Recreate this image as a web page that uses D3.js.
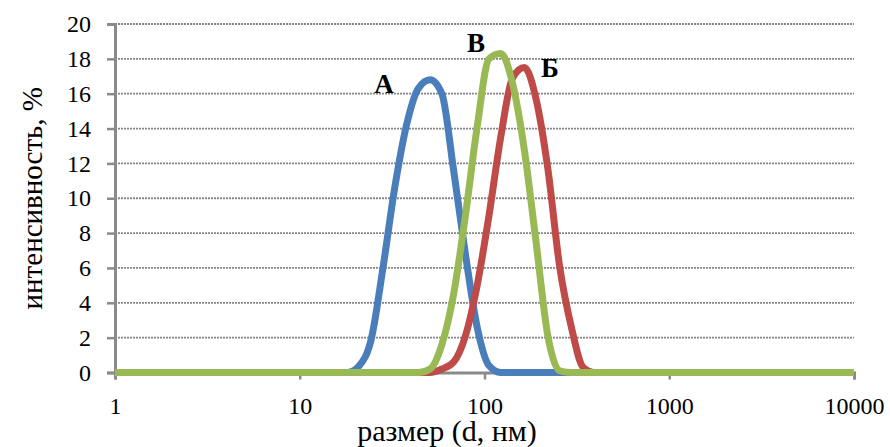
<!DOCTYPE html>
<html>
<head>
<meta charset="utf-8">
<script src="https://cdn.jsdelivr.net/npm/d3@7"></script>
<style>
  body { margin: 0; background: #fff; }
  text { font-family: "Liberation Serif", "Times New Roman", serif; fill: #000; }
</style>
</head>
<body>
<div id="chart"></div>
<script>
// particle size (nm), shared by all three distributions
const sizes = [1, 18.17, 21.04, 24.36, 28.21, 32.67, 37.84, 43.82, 50.75, 58.77, 68.06, 78.82,
               91.28, 105.7, 122.4, 141.8, 164.2, 190.1, 220.2, 255.0, 295.3, 342.0, 396.1, 10000];
// intensity, %
const seriesA = [0, 0, 0.4, 1.9, 6.0, 10.6, 14.2, 16.3, 16.8, 16.0, 11.6, 6.8,
                 2.6, 0.4, 0, 0, 0, 0, 0, 0, 0, 0, 0, 0];
const seriesB = [0, 0, 0, 0, 0, 0, 0, 0, 0, 0.2, 0.6, 2.1,
                 5.0, 9.0, 13.5, 16.9, 17.5, 15.7, 11.7, 6.1, 2.6, 0.3, 0, 0];
const seriesV = [0, 0, 0, 0, 0, 0, 0, 0, 0.2, 1.6, 4.5, 9.0,
                 14.1, 18.0, 18.3, 16.6, 12.8, 7.5, 2.1, 0.1, 0, 0, 0, 0];

const series = [
  { name: "А", values: seriesA, color: "#4a7ebb", label: [384, 93] },
  { name: "Б", values: seriesB, color: "#be4b48", label: [550, 77] },
  { name: "В", values: seriesV, color: "#98b954", label: [476, 52] }
];
const xTicks = [1, 10, 100, 1000, 10000];
const yTicks = [0, 2, 4, 6, 8, 10, 12, 14, 16, 18, 20];

const width  = 890;
const height = 447;
const margin = { top: 24, right: 36, bottom: 74.5, left: 115 };

const x = d3.scaleLog()
  .domain([1, 10000])
  .range([margin.left, width - margin.right]);
const y = d3.scaleLinear()
  .domain([0, 20])
  .range([height - margin.bottom, margin.top]);

const svg = d3.select("#chart").append("svg")
  .attr("width", width)
  .attr("height", height)
  .style("background", "#fff");

// dotted horizontal gridlines
svg.append("g")
  .selectAll("line")
  .data(yTicks.filter(d => d > 0))
  .enter().append("line")
  .attr("x1", x(1))
  .attr("x2", x(10000))
  .attr("y1", d => y(d))
  .attr("y2", d => y(d))
  .attr("stroke", "#868686")
  .attr("stroke-width", 1.8)
  .attr("stroke-dasharray", "2,1");

// y axis
const yAxis = svg.append("g")
  .attr("transform", "translate(" + x(1) + ",0)")
  .call(d3.axisLeft(y).tickValues(yTicks).tickSize(8).tickPadding(16));
yAxis.select(".domain").attr("stroke", "#8a8a8a").attr("stroke-width", 3);
yAxis.selectAll(".tick line").attr("stroke", "#8a8a8a").attr("stroke-width", 2.5);
yAxis.selectAll(".tick text")
  .attr("font-size", 24)
  .attr("font-family", "Liberation Serif, Times New Roman, serif")
  .attr("fill", "#000");

// x axis sits on y = 0
const xAxis = svg.append("g")
  .attr("transform", "translate(0," + y(0) + ")")
  .call(d3.axisBottom(x).tickValues(xTicks).tickFormat(d3.format("d")).tickSize(7).tickPadding(17));
xAxis.select(".domain").attr("stroke", "#8a8a8a").attr("stroke-width", 3);
xAxis.selectAll(".tick line").attr("stroke", "#8a8a8a").attr("stroke-width", 2.5);
xAxis.selectAll(".tick text")
  .attr("font-size", 24)
  .attr("font-family", "Liberation Serif, Times New Roman, serif")
  .attr("fill", "#000");

// distribution lines
const line = d3.line()
  .x((d, i) => x(sizes[i]))
  .y(d => y(d))
  .curve(d3.curveMonotoneX);

svg.append("g")
  .selectAll("path")
  .data(series)
  .enter().append("path")
  .attr("d", d => line(d.values))
  .attr("fill", "none")
  .attr("stroke", d => d.color)
  .attr("stroke-width", 7)
  .attr("stroke-linejoin", "round");

// curve letters
svg.append("g")
  .selectAll("text")
  .data(series)
  .enter().append("text")
  .attr("x", d => d.label[0])
  .attr("y", d => d.label[1])
  .attr("text-anchor", "middle")
  .attr("font-size", 27)
  .attr("font-weight", "bold")
  .text(d => d.name);

// axis titles
svg.append("text")
  .attr("transform", "translate(42," + (y(10)) + ") rotate(-90)")
  .attr("text-anchor", "middle")
  .attr("font-size", 29)
  .text("интенсивность, %");

svg.append("text")
  .attr("x", 447)
  .attr("y", 441)
  .attr("text-anchor", "middle")
  .attr("font-size", 30)
  .text("размер (d, нм)");
</script>
</body>
</html>
